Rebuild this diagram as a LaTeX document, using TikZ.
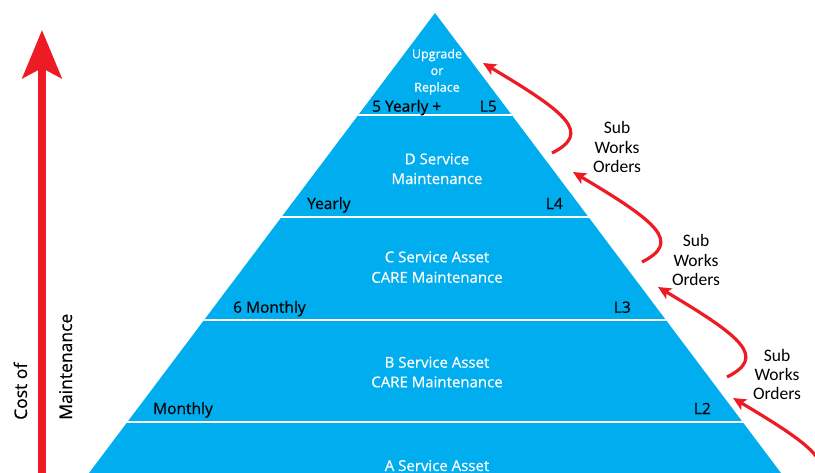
\documentclass[tikz,border=0pt]{standalone}
\usepackage{fontspec}
\setmainfont{Open Sans}[FakeBold=0.45]
\newfontfamily\calib{Carlito}
\usetikzlibrary{arrows.meta,calc}
\definecolor{pyblue}{RGB}{0,174,239}
\definecolor{arred}{RGB}{237,28,36}
\tikzset{
  bandtxt/.style={text=white, inner sep=0pt, anchor=base, font=\fontsize{15}{17}\selectfont},
  toptxt/.style={text=white, inner sep=0pt, anchor=base, font=\fontsize{12.5}{14}\selectfont},
  lbl/.style={text=black, inner sep=0pt, anchor=base west, font=\fontsize{15.5}{18}\selectfont},
  rlbl/.style={text=black, inner sep=0pt, anchor=base east, font=\fontsize{15.5}{18}\selectfont},
  swo/.style={text=black, inner sep=0pt, anchor=base, font=\calib\fontsize{17.5}{19}\selectfont},
  axtxt/.style={text=black, inner sep=0pt, anchor=base west, rotate=90, font=\fontsize{17.5}{20}\selectfont},
  subarrow/.style={draw=arred, line width=3.2pt, -{Stealth[length=13pt,width=12pt,inset=3pt]}},
  separator/.style={draw=white, line width=2pt}
}
\begin{document}
\begin{tikzpicture}[x=1pt,y=-1pt]
\useasboundingbox (0,0) rectangle (815,472);
\clip (0,0) rectangle (815,472);
% pyramid
\coordinate (apex) at (435,13);
\coordinate (bl) at (74,493);
\coordinate (br) at (796,493);
\fill[pyblue] (apex) -- (bl) -- (br) -- cycle;
\begin{scope}
  \clip (apex) -- (bl) -- (br) -- cycle;
  \foreach \yy in {115,217,320,422} {
    \draw[separator] (0,\yy) -- (815,\yy);
  }
\end{scope}
% band texts
\node[toptxt] (u1) at (437,58.3) {Upgrade};
\node[toptxt] (u2) at (437,75) {or};
\node[toptxt] (u3) at (437,91.7) {Replace};
\node[lbl] (l5a) at (372,111.7) {5 Yearly +};
\node[rlbl] (l5b) at (497,111.7) {L5};
\node[bandtxt] (d1) at (437,164.3) {D Service};
\node[bandtxt] (d2) at (437,184) {Maintenance};
\node[lbl] (l4a) at (307,209) {Yearly};
\node[rlbl] (l4b) at (563,209) {L4};
\node[bandtxt] (c1) at (437,262.3) {C Service Asset};
\node[bandtxt] (c2) at (437,282.7) {CARE Maintenance};
\node[lbl] (l3a) at (233,312.7) {6 Monthly};
\node[rlbl] (l3b) at (631,312.7) {L3};
\node[bandtxt] (b1) at (437,367.7) {B Service Asset};
\node[bandtxt] (b2) at (437,387.3) {CARE Maintenance};
\node[lbl] (l2a) at (153,414) {Monthly};
\node[rlbl] (l2b) at (711,414) {L2};
\node[bandtxt] (a1) at (437,471) {A Service Asset};
% sub works orders
\node[swo] (s1a) at (617,133.3) {Sub};
\node[swo] (s1b) at (617,153.3) {Works};
\node[swo] (s1c) at (617,172.3) {Orders};
\node[swo] (s2a) at (696,246.7) {Sub};
\node[swo] (s2b) at (696,266.7) {Works};
\node[swo] (s2c) at (696,285.7) {Orders};
\node[swo] (s3a) at (777,361) {Sub};
\node[swo] (s3b) at (777,380) {Works};
\node[swo] (s3c) at (777,399.3) {Orders};
% curved arrows
\foreach \n/\tx/\ty in {1/552/153, 2/642/262, 3/727/377, 4/802/488} {
  \coordinate (tail\n) at (\tx,\ty);
  \coordinate (tip\n) at ($(\tx,\ty)+(-69,-90)$);
}
\foreach \n in {1,2,3,4} {
  \draw[subarrow] (tail\n) .. controls +(40,-20) and +(84,50) .. (tip\n);
}
% axis
\coordinate (axbot) at (42,480);
\coordinate (axtop) at (42,30);
\draw[arred, line width=8.5pt, -{Stealth[length=48pt,width=39pt,inset=10pt]}] (axbot) -- (axtop);
\node[axtxt] (cost) at (27,420) {Cost of};
\node[axtxt] (maint) at (72,420) {Maintenance};
\end{tikzpicture}
\end{document}
